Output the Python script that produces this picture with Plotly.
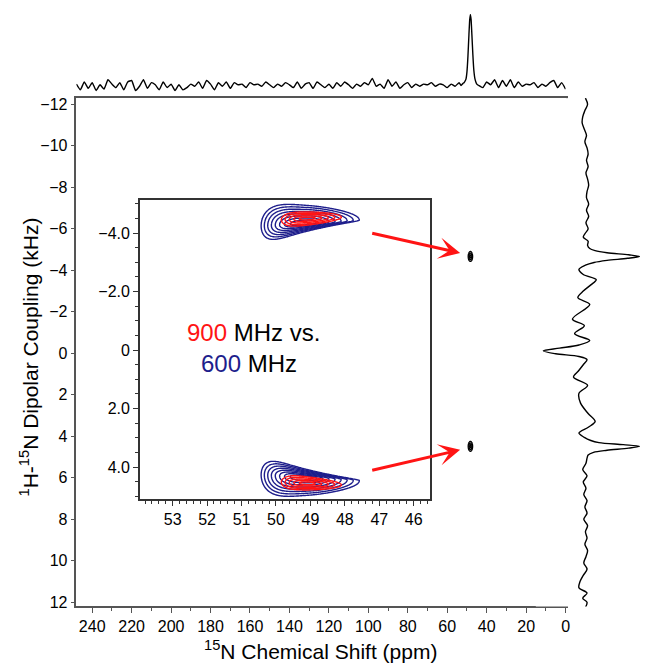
import numpy as np
import plotly.graph_objects as go

W, H = 645, 665
FONT = "Liberation Sans, Arial, sans-serif"
BLUE = "rgb(30,30,140)"
RED = "rgb(255,20,20)"

# ---------------- data ----------------
main_xticks = list(range(0, 241, 20))
main_yticks = list(range(-12, 13, 2))
inset_xticks = [53, 52, 51, 50, 49, 48, 47, 46]
inset_yticks = [-4, -2, 0, 2, 4]
inset_yticktext = ["\u22124.0", "\u22122.0", "0", "2.0", "4.0"]

# top projection (15N), intensity in % of peak
top_noise_left = [3, -5, 6, -3, 5, -6, 2, -4, 9, 3, -2, 5, -5, 6, 8, -6, 0, 9, -3, 5,
                  2, -5, 6, -2, 3, -6, 2, -5, -2, 3, 0, 6, -3, 8, 3, -5, 5, 0, 6, -3,
                  5, 2, 3, -2, 5, 2, 3, 0, 6, 2, -2, 3, 0, 5, 2, -2, 6, -3, 3, 5,
                  -3, 6, 2, -2, 3, -3, 5, 0, 6, 2, -3, 3, 0, 5, 2, 11, 0, 3, -3, 9,
                  0, 6, -3, 2, 5, -2, 3, 0, 3, 2, 5, 0, 3, 2, -2, 3, 0, 5]   # 248 .. 54 ppm
top_peak_ppm = [53, 52, 51.5, 51, 50.5, 50, 49.5, 49, 48.6, 48.25, 47.9, 47.5, 47, 46.5, 46, 45.5, 45, 44]
top_peak_int = [1, 4, 5, 7, 10, 20, 42, 72, 93, 100, 93, 72, 44, 22, 11, 6, 3, 1]
top_noise_right = [-2, 6, 2, 9, -2, 8, 0, 9, -2, 6, 0, 3, 2, 5, -2, 3, 0, 5, 8, -2, 5, -4]  # 42 .. 0 ppm

# right projection (dipolar coupling), intensity in % of peak
right_khz = [-12.3, -12.0, -11.7, -11.4, -11.1, -10.8, -10.5, -10.2, -9.9, -9.6, -9.3, -9.0,
             -8.7, -8.4, -8.1, -7.8, -7.5, -7.2, -6.9, -6.6, -6.3, -6.0, -5.8, -5.6, -5.4, -5.2,
             -5.05, -4.95, -4.85, -4.75, -4.67, -4.58, -4.48, -4.38, -4.25, -4.05, -3.8,
             -3.55, -3.3, -3.0, -2.68, -2.36, -1.65, -1.33, -0.95, -0.62, -0.4, -0.25,
             -0.12, 0.02, 0.15, 0.3, 0.55, 0.85, 1.14, 1.54, 1.93, 2.4, 2.9, 3.28, 3.55,
             3.84, 4.05, 4.2, 4.3, 4.4, 4.48, 4.57, 4.67, 4.77, 4.9, 5.05, 5.3, 5.6, 5.9, 6.2,
             6.5, 6.8, 7.1, 7.4, 7.7, 8.0, 8.3, 8.6, 8.9, 9.2, 9.5, 9.8, 10.1, 10.4, 10.7, 11.0,
             11.3, 11.55, 11.8, 12.0, 12.25]
right_int = [0, 4, -1, -5, -6, -2, 2, -1, 3, 5, 2, 5,
             1, 4, 6, 3, 2, 6, 2, 6, 1, 5, 0, -4, 5, 4,
             8, 18, 40, 80, 100, 78, 40, 16, 0, -12, -4,
             20, 10, -4, -14, 8, -24, -2, -20, 8, -12, -48,
             -78, -55, -12, 3, -4, -13, -22, 4, -12, -9, 5, 18, 6,
             -12, -2, 10, 25, 70, 100, 80, 40, 15, 5, 3, 1, -5, 3, -4,
             1, -3, 3, -1, 3, -3, 4, 0, 3, -1, 4, 1, -3, 3, -4, -10,
             -12, 3, -5, 3, 0]

# main 2D peaks (ppm, kHz) and widths (sigma)
main_peak_ppm = [48.25, 48.25]
main_peak_khz = [-4.67, 4.48]
main_peak_sigma = [0.75, 0.16]

# inset peaks: 600 MHz (blue) and 900 MHz (red)
blue_ppm = 49.08
blue_khz = [-4.34, 4.36]
red_ppm = 49.05
red_khz = [-4.50, 4.56]
blue_shape = dict(su_l=0.85, su_r=0.667, p_l=3.5, sv_up=0.27, sv_dn=0.12, k_up=0.25, k_dn=0.8, m=0.07)
red_shape = dict(su_l=0.50, su_r=0.475, p_l=3.0, sv_up=0.112, sv_dn=0.11, k_up=0.25, k_dn=0.4, m=0.05)


def peak_distance(X, Y, xc, yc, flip, s):
    u = X - xc
    v = (Y - yc) * flip
    dv = v - s["m"] * u
    uterm = np.where(u >= 0, np.abs(u / s["su_l"]) ** s["p_l"], (u / s["su_r"]) ** 2)
    sv = np.where(dv < 0, s["sv_up"] * np.exp(s["k_up"] * u), s["sv_dn"] * np.exp(s["k_dn"] * u))
    return np.sqrt(uterm + (dv / sv) ** 2)


fig = go.Figure()

# inset contours
xs = np.round(np.arange(45.6, 53.9, 0.03), 3)
for color, xc, ycs, shape, lev in [(BLUE, blue_ppm, blue_khz, blue_shape, (0.4, 2.25, 0.264)),
                                   (RED, red_ppm, red_khz, red_shape, (0.4, 2.0, 0.4))]:
    for yc in ycs:
        flip = 1 if yc < 0 else -1
        ys = np.round(np.arange(yc - 1.0, yc + 1.0, 0.012), 3)
        X, Y = np.meshgrid(xs, ys)
        Z = np.round(peak_distance(X, Y, xc, yc, flip, shape), 3)
        fig.add_trace(go.Contour(
            x=xs, y=ys, z=Z, xaxis="x2", yaxis="y2",
            contours=dict(start=lev[0], end=lev[1], size=lev[2], coloring="lines"),
            colorscale=[[0, color], [1, color]], showscale=False,
            line=dict(width=1.4, smoothing=1), hoverinfo="skip"))

# main 2D peaks
mx = np.round(np.arange(44.0, 52.5, 0.05), 3)
for pc, kc in zip(main_peak_ppm, main_peak_khz):
    my = np.round(np.arange(kc - 0.45, kc + 0.45, 0.01), 3)
    X, Y = np.meshgrid(mx, my)
    Z = np.sqrt(((X - pc) / main_peak_sigma[0]) ** 2 + ((Y - kc) / main_peak_sigma[1]) ** 2)
    fig.add_trace(go.Contour(
        x=mx, y=my, z=np.round(Z, 3), xaxis="x", yaxis="y",
        contours=dict(start=0.5, end=1.5, size=0.5, coloring="lines"),
        colorscale=[[0, "black"], [1, "black"]], showscale=False,
        line=dict(width=1.3, smoothing=1), hoverinfo="skip"))

# top projection
top_ppm = list(range(248, 53, -2)) + top_peak_ppm + list(range(42, -1, -2))
top_int = top_noise_left + top_peak_int + top_noise_right
fig.add_trace(go.Scatter(x=top_ppm, y=top_int, xaxis="x4", yaxis="y4", mode="lines",
                         line=dict(color="black", width=1.4, shape="spline", smoothing=0.4),
                         hoverinfo="skip"))

# right projection
fig.add_trace(go.Scatter(x=right_int, y=right_khz, xaxis="x3", yaxis="y3", mode="lines",
                         line=dict(color="black", width=1.4, shape="spline", smoothing=0.9),
                         hoverinfo="skip"))

AX = "#555555"
main_xdom = [77 / W, 570 / W]
main_ydom = [1 - 610 / H, 1 - 97 / H]
main_yrange = [12.2, -12.3]
tickfont = dict(family=FONT, size=16, color="black")

fig.update_layout(
    width=W, height=H, margin=dict(l=0, r=0, t=0, b=0),
    paper_bgcolor="white", plot_bgcolor="white", showlegend=False,
    font=dict(family=FONT, color="black"),
    xaxis=dict(domain=main_xdom, range=[248, 0], anchor="y", tickmode="array", tickvals=main_xticks,
               ticks="outside", ticklen=5, tickwidth=1.2, tickcolor=AX,
               minor=dict(tick0=0, dtick=10, ticks="outside", ticklen=3, tickcolor=AX, tickwidth=1),
               showline=True, linecolor=AX, linewidth=1.5, mirror=True,
               showgrid=False, zeroline=False, tickfont=tickfont),
    yaxis=dict(domain=main_ydom, range=main_yrange, anchor="x", tickmode="array", tickvals=main_yticks,
               ticks="outside", ticklen=4, tickwidth=1.2, tickcolor=AX,
               showline=True, linecolor=AX, linewidth=1.5, mirror=True,
               showgrid=False, zeroline=False, tickfont=tickfont),
    xaxis2=dict(domain=[141 / W, 433.3 / W], range=[53.95, 45.53], anchor="y2", tickmode="array",
                tickvals=inset_xticks, ticks="outside", ticklen=5, tickwidth=1.2, tickcolor="#333",
                minor=dict(tick0=0, dtick=0.2, ticks="outside", ticklen=3, tickcolor="#333", tickwidth=1),
                showline=True, linecolor="#333", linewidth=1.5, mirror=True,
                showgrid=False, zeroline=False, tickfont=tickfont),
    yaxis2=dict(domain=[1 - 501.7 / H, 1 - 199.3 / H], range=[5.10, -5.15], anchor="x2", tickmode="array",
                tickvals=inset_yticks, ticktext=inset_yticktext, ticks="outside", ticklen=5,
                tickwidth=1.2, tickcolor="#333",
                minor=dict(tick0=0, dtick=0.5, ticks="outside", ticklen=3, tickcolor="#333", tickwidth=1),
                showline=True, linecolor="#333", linewidth=1.5, mirror=True,
                showgrid=False, zeroline=False, tickfont=tickfont),
    xaxis3=dict(domain=[540 / W, 1.0], range=[-91.8, 101], anchor="y3", visible=False),
    yaxis3=dict(domain=main_ydom, range=main_yrange, anchor="x3", visible=False),
    xaxis4=dict(domain=main_xdom, range=[248, 0], anchor="y4", visible=False),
    yaxis4=dict(domain=[1 - 97 / H, 1.0], range=[-16.6, 117.6], anchor="x4", visible=False),
)

annotations = [
    dict(text="<sup>15</sup>N Chemical Shift (ppm)", xref="paper", yref="paper",
         x=(main_xdom[0] + main_xdom[1]) / 2, y=1 - 654 / H, xanchor="center", yanchor="middle",
         showarrow=False, font=dict(family=FONT, size=21, color="black")),
    dict(text="<sup>1</sup>H-<sup>15</sup>N Dipolar Coupling (kHz)", xref="paper", yref="paper",
         x=29 / W, y=1 - 358 / H, xanchor="center", yanchor="middle", textangle=-90,
         showarrow=False, font=dict(family=FONT, size=21, color="black")),
    dict(text=f"<span style='color:{RED}'>900</span> MHz vs.", xref="paper", yref="paper",
         x=255 / W, y=1 - 334 / H, xanchor="center", yanchor="middle", showarrow=False,
         font=dict(family=FONT, size=24, color="black")),
    dict(text=f"<span style='color:{BLUE}'>600</span> MHz", xref="paper", yref="paper",
         x=251 / W, y=1 - 365 / H, xanchor="center", yanchor="middle", showarrow=False,
         font=dict(family=FONT, size=24, color="black")),
]
for tip_y, tail_y in [(-4.84, -5.80), (4.65, 5.65)]:
    annotations.append(dict(text="", x=53.45, y=tip_y, ax=98.8, ay=tail_y, xref="x", yref="y",
                            axref="x", ayref="y", showarrow=True, arrowhead=3, arrowsize=1.2,
                            arrowwidth=3, arrowcolor=RED, standoff=0))
fig.update_layout(annotations=annotations)

fig.write_html("out.html", config={"displayModeBar": False},
               post_script="document.body.style.margin='0px';")
